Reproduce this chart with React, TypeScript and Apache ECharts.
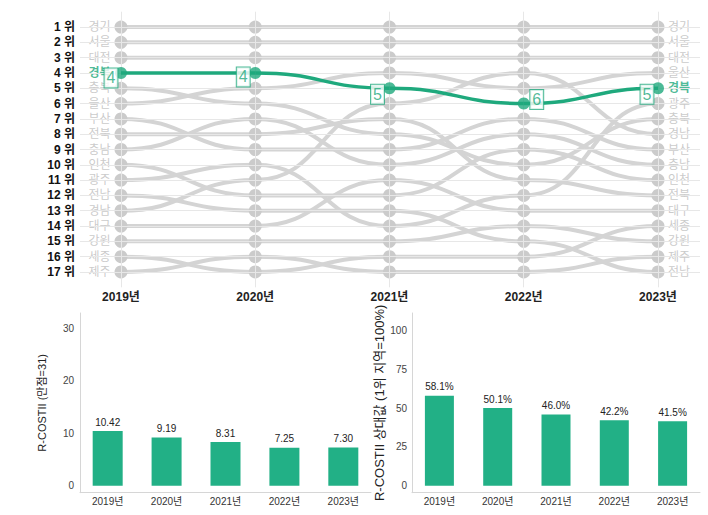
import React, { useEffect, useRef } from 'react';
import * as echarts from 'echarts';

const years = ['2019년', '2020년', '2021년', '2022년', '2023년'];
const order2019 = ['경기', '서울', '대전', '경북', '충북', '울산', '부산', '전북', '충남', '인천', '광주', '전남', '경남', '대구', '강원', '세종', '제주'];
const order2020 = ['경기', '서울', '대전', '경북', '울산', '충북', '충남', '전북', '부산', '광주', '경남', '인천', '전남', '대구', '강원', '제주', '세종'];
const order2021 = ['경기', '서울', '대전', '울산', '경북', '경남', '전북', '충북', '부산', '충남', '대구', '인천', '전남', '광주', '강원', '세종', '제주'];
const order2022 = ['경기', '서울', '대전', '경남', '울산', '경북', '부산', '충남', '인천', '충북', '전북', '광주', '대구', '강원', '전남', '세종', '제주'];
const order2023 = ['경기', '서울', '대전', '울산', '경북', '광주', '충북', '경남', '부산', '충남', '인천', '전북', '대구', '세종', '강원', '제주', '전남'];
const rankOrders = [order2019, order2020, order2021, order2022, order2023];
const focusRegion = '경북';
const scoreValues = [10.42, 9.19, 8.31, 7.25, 7.3];
const relativeValues = [58.1, 50.1, 46.0, 42.2, 41.5];
const scoreTicks = [0, 10, 20, 30];
const relativeTicks = [0, 25, 50, 75, 100];

const GREEN = '#1fa97d';
const BAR = '#22b086';
const GRAY_LINE = '#d4d4d4';
const GRAY_DOT = '#cbcbcb';
const FONT = "'Liberation Sans', 'Noto Sans CJK KR', sans-serif";

// label offsets for focus labels (layout only)
const focusLabelPos = [[-4, 11], [-6, 10], [-6, 12], [19, 2], [-5, 12]];

function rankOf(region: string, yearIdx: number) {
  return rankOrders[yearIdx].indexOf(region) + 1;
}

export default function App() {
  const ref = useRef<HTMLDivElement>(null);
  useEffect(() => {
    if (!ref.current) return;
    const chart = echarts.init(ref.current, undefined, { renderer: 'svg' });
    const regions = order2019;
    const nRanks = regions.length;

    const graySegs: number[][] = [];
    const grayDots: number[][] = [];
    regions.forEach((r) => {
      if (r === focusRegion) return;
      for (let i = 0; i < years.length; i++) {
        grayDots.push([i, rankOf(r, i)]);
        if (i < years.length - 1) graySegs.push([i, rankOf(r, i), i + 1, rankOf(r, i + 1)]);
      }
    });
    const focusSegs: number[][] = [];
    const focusDots: any[] = [];
    for (let i = 0; i < years.length; i++) {
      const rk = rankOf(focusRegion, i);
      focusDots.push({
        value: [i, rk],
        label: { position: focusLabelPos[i] },
      });
      if (i < years.length - 1) focusSegs.push([i, rk, i + 1, rankOf(focusRegion, i + 1)]);
    }

    const makeRender = (color: string, width: number) => (params: any, api: any) => {
      const p1 = api.coord([api.value(0), api.value(1)]);
      const p2 = api.coord([api.value(2), api.value(3)]);
      const mx = (p1[0] + p2[0]) / 2;
      return {
        type: 'bezierCurve',
        shape: { x1: p1[0], y1: p1[1], x2: p2[0], y2: p2[1], cpx1: mx, cpy1: p1[1], cpx2: mx, cpy2: p2[1] },
        style: { stroke: color, lineWidth: width, fill: 'none' },
      };
    };

    const nameLabel = (name: string) =>
      name === focusRegion
        ? { color: GREEN, fontWeight: 'bold' }
        : { color: '#bdbdbd', fontWeight: 'normal' };

    const ranks = Array.from({ length: nRanks }, (_, k) => k + 1);
    const barAxisLine = { show: true, onZero: false, lineStyle: { color: '#d6d6d6' } };

    const option: any = {
      animation: false,
      textStyle: { fontFamily: FONT },
      grid: [
        { left: 80, right: 8, top: 11.7, bottom: 227.7 },
        { left: 80, width: 291, top: 313, bottom: 22.3 },
        { left: 412, right: 8, top: 313, bottom: 22.3 },
      ],
      xAxis: [
        {
          gridIndex: 0, type: 'value', min: -0.3054, max: 4.3129,
          axisLine: { show: false, onZero: false }, axisTick: { show: false }, splitLine: { show: false },
          axisLabel: {
            customValues: [0, 1, 2, 3, 4], formatter: (v: number) => years[Math.round(v)] || '',
            fontWeight: 'bold', fontSize: 12, color: '#222', margin: 4, fontFamily: FONT,
          },
        },
        {
          gridIndex: 1, type: 'value', min: -0.47, max: 4.47,
          axisLine: barAxisLine, axisTick: { show: false }, splitLine: { show: false },
          axisLabel: { customValues: [0, 1, 2, 3, 4], formatter: (v: number) => years[Math.round(v)] || '', fontSize: 10, color: '#333', margin: 4 },
        },
        {
          gridIndex: 2, type: 'value', min: -0.47, max: 4.47,
          axisLine: barAxisLine, axisTick: { show: false }, splitLine: { show: false },
          axisLabel: { customValues: [0, 1, 2, 3, 4], formatter: (v: number) => years[Math.round(v)] || '', fontSize: 10, color: '#333', margin: 4 },
        },
      ],
      yAxis: [
        {
          gridIndex: 0, type: 'value', inverse: true, min: 0, max: nRanks + 1, interval: 1,
          axisLine: { show: false, onZero: false }, axisTick: { show: false }, splitLine: { show: false },
          axisLabel: {
            formatter: (v: number) => (v >= 1 && v <= nRanks ? `${v} 위` : ''),
            fontWeight: 'bold', fontSize: 12, color: '#111', margin: 5,
          },
        },
        {
          gridIndex: 1, type: 'value', min: -1.33, max: 32.9,
          name: 'R-COSTII (만점=31)', nameLocation: 'middle', nameGap: 33, nameRotate: 90,
          nameTextStyle: { fontSize: 11, color: '#222' },
          axisLine: barAxisLine, axisTick: { show: false }, splitLine: { show: false },
          axisLabel: { customValues: scoreTicks, fontSize: 10, color: '#444', margin: 6 },
        },
        {
          gridIndex: 2, type: 'value', min: -4.52, max: 111.4,
          name: 'R-COSTII 상대값 (1위 지역=100%)', nameLocation: 'middle', nameGap: 21, nameRotate: 90,
          nameTextStyle: { fontSize: 13, color: '#222' },
          axisLine: barAxisLine, axisTick: { show: false }, splitLine: { show: false },
          axisLabel: { customValues: relativeTicks, fontSize: 10, color: '#444', margin: 5 },
        },
      ],
      series: [
        {
          type: 'scatter', xAxisIndex: 0, yAxisIndex: 0, z: 1, silent: true,
          symbolSize: 0, data: grayDots,
          markLine: {
            silent: true, symbol: 'none', label: { show: false },
            lineStyle: { color: '#e7e7e7', width: 1, type: 'solid' },
            data: [
              ...ranks.map((r) => ({ yAxis: r })),
              ...years.map((_, i) => ({ xAxis: i })),
            ],
          },
        },
        {
          type: 'custom', xAxisIndex: 0, yAxisIndex: 0, z: 2, silent: true,
          renderItem: makeRender(GRAY_LINE, 4),
          encode: { x: [0, 2], y: [1, 3] },
          data: graySegs,
        },
        {
          type: 'scatter', xAxisIndex: 0, yAxisIndex: 0, z: 3, silent: true,
          symbolSize: 13, itemStyle: { color: GRAY_DOT, opacity: 1 },
          data: grayDots,
        },
        {
          type: 'scatter', xAxisIndex: 0, yAxisIndex: 0, z: 4, silent: true,
          symbolSize: 13, itemStyle: { color: 'rgba(0,0,0,0)' },
          label: { show: true, position: 'left', distance: 4, fontSize: 12, formatter: (p: any) => p.name },
          data: order2019.map((name, k) => ({ name, value: [0, k + 1], label: nameLabel(name) })),
        },
        {
          type: 'scatter', xAxisIndex: 0, yAxisIndex: 0, z: 4, silent: true,
          symbolSize: 13, itemStyle: { color: 'rgba(0,0,0,0)' },
          label: { show: true, position: 'right', distance: 3.5, fontSize: 12, formatter: (p: any) => p.name },
          data: order2023.map((name, k) => ({ name, value: [4, k + 1], label: nameLabel(name) })),
        },
        {
          type: 'custom', xAxisIndex: 0, yAxisIndex: 0, z: 6, silent: true,
          renderItem: makeRender(GREEN, 3.5),
          encode: { x: [0, 2], y: [1, 3] },
          data: focusSegs,
        },
        {
          type: 'scatter', xAxisIndex: 0, yAxisIndex: 0, z: 7, silent: true,
          symbolSize: 12, itemStyle: { color: GREEN },
          label: {
            show: true, align: 'center', verticalAlign: 'middle',
            formatter: (p: any) => String(p.value[1]),
            fontSize: 16, color: GREEN, backgroundColor: '#fff',
            borderColor: GREEN, borderWidth: 1, padding: [1, 2, 0, 2], lineHeight: 18,
          },
          data: focusDots,
        },
        {
          type: 'bar', xAxisIndex: 1, yAxisIndex: 1, barWidth: 30,
          itemStyle: { color: BAR },
          label: { show: true, position: 'top', distance: 4, fontSize: 10, color: '#222', formatter: (p: any) => p.value[1].toFixed(2) },
          data: scoreValues.map((v, i) => [i, v]),
        },
        {
          type: 'bar', xAxisIndex: 2, yAxisIndex: 2, barWidth: 29,
          itemStyle: { color: BAR },
          label: { show: true, position: 'top', distance: 4, fontSize: 10, color: '#222', formatter: (p: any) => p.value[1].toFixed(1) + '%' },
          data: relativeValues.map((v, i) => [i, v]),
        },
      ],
    };
    chart.setOption(option);
    return () => chart.dispose();
  }, []);
  return <div ref={ref} style={{ position: 'absolute', left: 0, top: 0, width: 708, height: 515 }} />;
}
